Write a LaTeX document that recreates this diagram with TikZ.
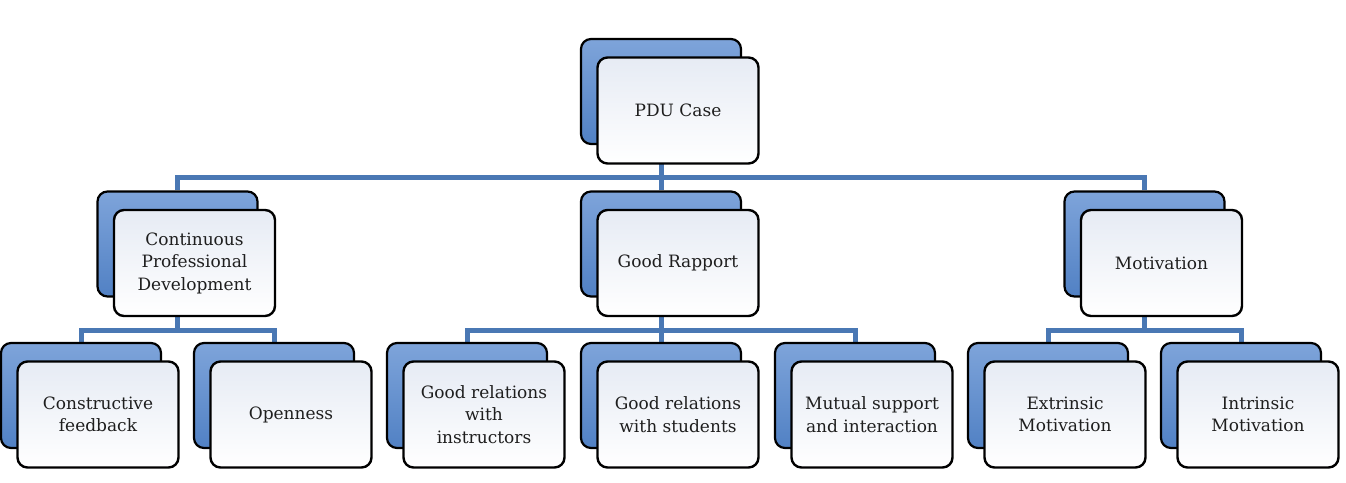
\documentclass[tikz,border=0pt]{standalone}
\usepackage{fontspec}
\setmainfont{DejaVu Serif}
\usetikzlibrary{backgrounds}
\definecolor{bluetop}{HTML}{7EA4DA}
\definecolor{bluebot}{HTML}{5181C4}
\definecolor{fronttop}{HTML}{E6EBF4}
\definecolor{frontmid}{HTML}{EBEFF6}
\definecolor{connblue}{HTML}{4A78B4}
\definecolor{txt}{HTML}{1E1E1E}
\tikzset{
  backbox/.style={draw=black, line width=2.2pt, rounded corners=10pt,
    minimum width=160pt, minimum height=105pt, inner sep=0pt,
    top color=bluetop, bottom color=bluebot},
  frontbox/.style={draw=black, line width=2.4pt, rounded corners=10pt,
    minimum width=161pt, minimum height=106pt, inner sep=0pt,
    top color=fronttop, middle color=frontmid, bottom color=white,
    align=center, text=txt, font=\fontsize{17pt}{22.5pt}\selectfont},
  conn/.style={draw=connblue, line width=5pt}
}
\newcommand\duobox[4]{%
  \node[backbox] (#1b) at (#2,#3) {};
  \node[frontbox] (#1) at ({#2+17},{#3+19}) {#4};
}
\begin{document}
\begin{tikzpicture}[x=1pt,y=-1pt]
\useasboundingbox (0,0) rectangle (1346,482);
% level 1
\duobox{pdu}{661}{91.5}{PDU Case}
% level 2
\duobox{cpd}{177.5}{244}{Continuous\\Professional\\Development}
\duobox{gr}{661}{244}{Good Rapport}
\duobox{mot}{1144.5}{244}{Motivation}
% level 3
\duobox{cf}{81}{395.5}{Constructive\\feedback}
\duobox{op}{274}{395.5}{Openness}
\duobox{gri}{467}{395.5}{Good relations\\with\\instructors}
\duobox{grs}{661}{395.5}{Good relations\\with students}
\duobox{ms}{855}{395.5}{Mutual support\\and interaction}
\duobox{em}{1048}{395.5}{Extrinsic\\Motivation}
\duobox{im}{1241}{395.5}{Intrinsic\\Motivation}
\coordinate (bus1) at (661,177);
\coordinate (bus2) at (177.5,330);
\coordinate (bus3) at (661,330);
\coordinate (bus4) at (1144.5,330);
\begin{pgfonlayer}{background}
\draw[conn] (pdub.south) -- (bus1);
\draw[conn] (cpdb.north) |- (bus1);
\draw[conn] (motb.north) |- (bus1);
\draw[conn] (grb.north) -- (bus1);
\draw[conn] (cpdb.south) -- (bus2);
\draw[conn] (cfb.north) |- (bus2);
\draw[conn] (opb.north) |- (bus2);
\draw[conn] (grb.south) -- (bus3);
\draw[conn] (grib.north) |- (bus3);
\draw[conn] (msb.north) |- (bus3);
\draw[conn] (grsb.north) -- (bus3);
\draw[conn] (motb.south) -- (bus4);
\draw[conn] (emb.north) |- (bus4);
\draw[conn] (imb.north) |- (bus4);
\end{pgfonlayer}
\end{tikzpicture}
\end{document}
